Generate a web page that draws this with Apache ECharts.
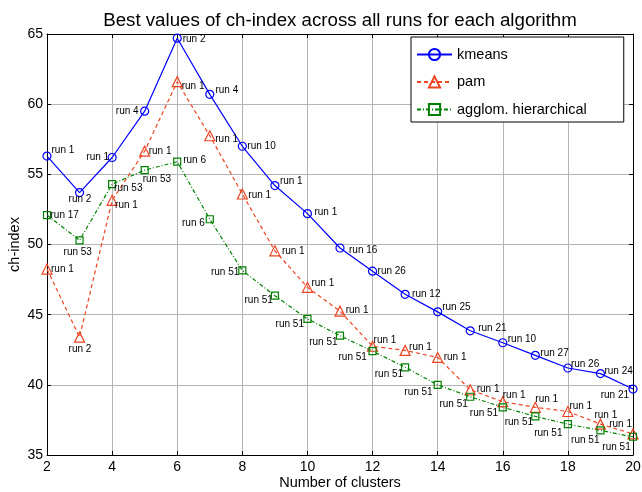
<!DOCTYPE html>
<html>
<head>
<meta charset="utf-8">
<script src="https://cdn.jsdelivr.net/npm/echarts@6/dist/echarts.min.js"></script>
<style>html,body{margin:0;padding:0;background:#fff}#c{width:642px;height:492px}</style>
</head>
<body>
<div id="c"></div>
<script>
var clusters = [2,3,4,5,6,7,8,9,10,11,12,13,14,15,16,17,18,19,20];
var kmeans = [56.3,53.7,56.2,59.5,64.7,60.7,57.0,54.2,52.2,49.75,48.1,46.45,45.2,43.85,43.0,42.1,41.2,40.8,39.7];
var pam = [48.25,43.4,53.15,56.65,61.6,57.75,53.6,49.55,46.95,45.25,42.75,42.45,41.95,39.65,38.8,38.4,38.1,37.2,36.5];
var agglom = [52.1,50.3,54.3,55.3,55.9,51.8,48.15,46.35,44.7,43.5,42.4,41.25,40.0,39.15,38.4,37.75,37.2,36.75,36.3];
var kmeansRuns = ['run 1','run 2','run 1','run 4','run 2','run 4','run 10','run 1','run 1','run 16','run 26','run 12','run 25','run 21','run 10','run 27','run 26','run 24','run 21'];
var pamRuns = ['run 1','run 2','run 1','run 1','run 1','run 1','run 1','run 1','run 1','run 1','run 1','run 1','run 1','run 1','run 1','run 1','run 1','run 1','run 1'];
var agglomRuns = ['run 17','run 53','run 53','run 53','run 6','run 6','run 51','run 51','run 51','run 51','run 51','run 51','run 51','run 51','run 51','run 51','run 51','run 51','run 51'];
var yTicks = [35,40,45,50,55,60,65];
var xTicks = [2,4,6,8,10,12,14,16,18,20];

// label placement (style): [dx, dy, align]
var kmeansLbl = [[4.5,-6,'l'],[-11,7,'l'],[-3,0,'r'],[-6,0,'r'],[5.5,1,'l'],[5.7,-4,'l'],[5,0,'l'],[5,-4,'l'],[7,-1,'l'],[9,2,'l'],[5,0,'l'],[7,0,'l'],[4.5,-5,'l'],[8,-3,'l'],[5,-3,'l'],[5,-2,'l'],[3,-4,'l'],[4,-2,'l'],[-4,6,'r']];
var pamLbl = [[4,0,'l'],[-11,12,'l'],[3,5,'l'],[4,0,'l'],[4.5,5,'l'],[5.5,3.5,'l'],[6,1.5,'l'],[7,0,'l'],[4,-4,'l'],[5.7,-1,'l'],[1,-6,'l'],[4,-3,'l'],[6,0,'l'],[6.5,0,'l'],[0,-6,'l'],[0,-8,'l'],[1.5,-5,'l'],[-6,-9,'l'],[-1,-10,'r']];
var agglomLbl = [[3.5,0,'l'],[-16,12,'l'],[2,4,'l'],[-2,9,'l'],[6,-1,'l'],[-5,4,'r'],[-3,2,'r'],[-2,5,'r'],[-3.5,5,'r'],[-2.5,7,'r'],[-5.7,6,'r'],[-2,7,'r'],[-5,7,'r'],[-2.4,7,'r'],[-4.6,6,'r'],[-2.3,6,'r'],[-5.4,8.7,'r'],[-1,10,'r'],[-2.3,10.7,'r']];

var FONT = '"Liberation Sans", Arial, sans-serif';

function build(vals, runs, lbl) {
  return clusters.map(function (x, i) {
    return {
      value: [x, vals[i]],
      label: {
        formatter: runs[i],
        align: lbl[i][2] === 'l' ? 'left' : 'right',
        offset: [lbl[i][0], lbl[i][1]]
      }
    };
  });
}

var labelBase = {show: true, position: 'inside', verticalAlign: 'middle', color: '#000', fontSize: 10, fontFamily: FONT};

var chart = echarts.init(document.getElementById('c'), null, {renderer: 'canvas'});
chart.setOption({
  backgroundColor: '#fff',
  animation: false,
  title: {
    text: 'Best values of ch-index across all runs for each algorithm',
    left: 335, textAlign: 'center', top: 6,
    textStyle: {fontSize: 18.7, fontWeight: 'normal', color: '#000', fontFamily: FONT}
  },
  legend: {
    orient: 'vertical',
    left: 411, top: 37,
    padding: [10, 37, 5, 5],
    itemGap: 12.5, itemWidth: 35, itemHeight: 14,
    backgroundColor: '#fff',
    borderColor: '#000', borderWidth: 1,
    textStyle: {fontSize: 14.5, color: '#000', fontFamily: FONT},
    data: ['kmeans', 'pam', 'agglom. hierarchical']
  },
  grid: {left: 47, right: 9, top: 34, bottom: 37, containLabel: false, outerBoundsMode: 'none'},
  xAxis: [{
    type: 'value', min: 2, max: 20, interval: 2,
    name: 'Number of clusters', nameLocation: 'middle', nameGap: 20, nameMoveOverlap: false,
    nameTextStyle: {fontSize: 14.5, color: '#000', fontFamily: FONT},
    axisLine: {show: true, onZero: false, lineStyle: {color: '#000', width: 1}},
    axisTick: {show: true, inside: true, length: 4, lineStyle: {color: '#000'}},
    axisLabel: {show: true, margin: 5, fontSize: 14, color: '#000', fontFamily: FONT,
      formatter: function (v) { return xTicks.indexOf(v) >= 0 ? String(v) : ''; }},
    splitLine: {show: true, lineStyle: {color: '#b4b4b4', width: 1}}
  }, {
    type: 'value', position: 'top', min: 2, max: 20, interval: 2,
    axisLine: {show: true, onZero: false, lineStyle: {color: '#000', width: 1}},
    axisTick: {show: true, inside: true, length: 4, lineStyle: {color: '#000'}},
    axisLabel: {show: false}, splitLine: {show: false}
  }],
  yAxis: [{
    type: 'value', min: 35, max: 65, interval: 5,
    name: 'ch-index', nameLocation: 'middle', nameGap: 25, nameMoveOverlap: false,
    nameTextStyle: {fontSize: 14.5, color: '#000', fontFamily: FONT},
    axisLine: {show: true, onZero: false, lineStyle: {color: '#000', width: 1}},
    axisTick: {show: true, inside: true, length: 4, lineStyle: {color: '#000'}},
    axisLabel: {show: true, margin: 4, fontSize: 14, color: '#000', fontFamily: FONT,
      formatter: function (v) { return yTicks.indexOf(v) >= 0 ? String(v) : ''; }},
    splitLine: {show: true, lineStyle: {color: '#b4b4b4', width: 1}}
  }, {
    type: 'value', position: 'right', min: 35, max: 65, interval: 5,
    axisLine: {show: true, onZero: false, lineStyle: {color: '#000', width: 1}},
    axisTick: {show: true, inside: true, length: 4, lineStyle: {color: '#000'}},
    axisLabel: {show: false}, splitLine: {show: false}
  }],
  series: [{
    name: 'kmeans', type: 'line',
    symbol: 'circle', symbolSize: 8,
    itemStyle: {color: 'rgba(0,0,0,0)', borderColor: '#0000ff', borderWidth: 1.2},
    lineStyle: {color: '#0000ff', width: 1.2, type: 'solid'},
    label: labelBase,
    emphasis: {disabled: true},
    clip: false,
    data: build(kmeans, kmeansRuns, kmeansLbl)
  }, {
    name: 'pam', type: 'line',
    symbol: 'triangle', symbolSize: 10,
    itemStyle: {color: 'rgba(0,0,0,0)', borderColor: '#ee4422', borderWidth: 1.2},
    lineStyle: {color: '#ee4422', width: 1.2, type: [4, 3]},
    label: labelBase,
    emphasis: {disabled: true},
    clip: false,
    data: build(pam, pamRuns, pamLbl)
  }, {
    name: 'agglom. hierarchical', type: 'line',
    symbol: 'rect', symbolSize: 7,
    itemStyle: {color: 'rgba(0,0,0,0)', borderColor: '#008000', borderWidth: 1.2},
    lineStyle: {color: '#008000', width: 1.2, type: [4, 2, 1, 2]},
    label: labelBase,
    emphasis: {disabled: true},
    clip: false,
    data: build(agglom, agglomRuns, agglomLbl)
  }]
});
</script>
</body>
</html>
